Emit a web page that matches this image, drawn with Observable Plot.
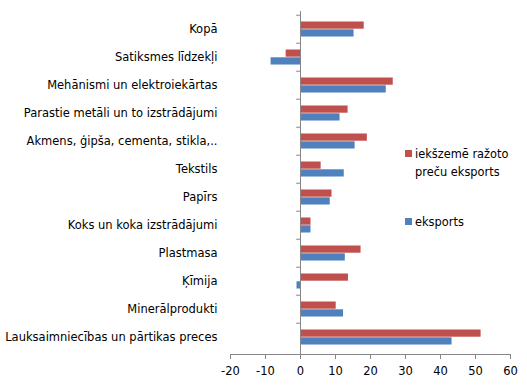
<!DOCTYPE html>
<html>
<head>
<meta charset="utf-8">
<script src="https://cdn.jsdelivr.net/npm/d3@7"></script>
<script src="https://cdn.jsdelivr.net/npm/@observablehq/plot@0.6"></script>
<style>
  html, body { margin: 0; padding: 0; background: #fff; }
  #wrap { position: relative; width: 527px; height: 386px; font-family: "DejaVu Sans", Verdana, sans-serif; }
  .leg { position: absolute; font-size: 11.4px; color: #000; line-height: 18px; }
  .sw { position: absolute; width: 7px; height: 7px; }
</style>
</head>
<body>
<div id="wrap"></div>
<script>
const categories = [
  "Kopā",
  "Satiksmes līdzekļi",
  "Mehānismi un elektroiekārtas",
  "Parastie metāli un to izstrādājumi",
  "Akmens, ģipša, cementa, stikla,..",
  "Tekstils",
  "Papīrs",
  "Koks un koka izstrādājumi",
  "Plastmasa",
  "Ķīmija",
  "Minerālprodukti",
  "Lauksaimniecības un pārtikas preces"
];
const domesticExport = [18.2, -4.1, 26.5, 13.6, 19.1, 5.9, 9.0, 3.0, 17.3, 13.7, 10.2, 51.6];
const totalExport = [15.3, -8.4, 24.5, 11.3, 15.6, 12.5, 8.5, 3.0, 12.8, -1.0, 12.3, 43.3];
const seriesNames = ["iekšzemē ražoto preču eksports", "eksports"];
const seriesColors = ["#C0504D", "#4F81BD"];
const xTicks = [-20, -10, 0, 10, 20, 30, 40, 50, 60];

const W = 527, H = 386;
const mTop = 11, mBottom = 32, mLeft = 230, mRight = 17;
const band = (H - mTop - mBottom) / categories.length;
const barH = band * 0.273;
const gapOuter = (band - 2 * barH) / 2;

const rows = [];
categories.forEach((c, i) => {
  rows.push({cat: c, s: 0, v: domesticExport[i]});
  rows.push({cat: c, s: 1, v: totalExport[i]});
});

const axisColor = "#868686";
const plot = Plot.plot({
  width: W, height: H,
  marginTop: mTop, marginBottom: mBottom, marginLeft: mLeft, marginRight: mRight,
  style: {fontFamily: "DejaVu Sans, Verdana, sans-serif", fontSize: "11.5px", color: "#000", background: "#fff"},
  x: {domain: [-20, 60], ticks: xTicks},
  y: {domain: categories, padding: 0},
  marks: [
    Plot.barX(rows.filter(d => d.s === 0), {
      x: "v", y: "cat", fill: seriesColors[0],
      insetTop: gapOuter, insetBottom: gapOuter + barH
    }),
    Plot.barX(rows.filter(d => d.s === 1), {
      x: "v", y: "cat", fill: seriesColors[1],
      insetTop: gapOuter + barH, insetBottom: gapOuter
    }),
    Plot.ruleX([0], {stroke: axisColor, strokeWidth: 1}),
    Plot.ruleY(categories, {y: d => d, x1: -1.1, x2: 0, dy: -band / 2, stroke: axisColor}),
    Plot.frame({anchor: "bottom", stroke: axisColor}),
    Plot.axisX({ticks: xTicks, tickSize: 5, tickPadding: 7, stroke: axisColor, color: "#000", fontSize: 11.5, label: null, tickFormat: d => String(d)}),
    Plot.axisY({tickSize: 0, tickPadding: 13, label: null, fontSize: 11.5})
  ]
});

const wrap = document.getElementById("wrap");
wrap.appendChild(plot);

// legend
const legendItems = [
  {name: seriesNames[0], color: seriesColors[0], top: 145, sq: 150, lines: ["iekšzemē ražoto", "preču eksports"]},
  {name: seriesNames[1], color: seriesColors[1], top: 213, sq: 218, lines: ["eksports"]}
];
legendItems.forEach(it => {
  const sw = document.createElement("div");
  sw.className = "sw";
  sw.style.left = "405px";
  sw.style.top = it.sq + "px";
  sw.style.background = it.color;
  wrap.appendChild(sw);
  const t = document.createElement("div");
  t.className = "leg";
  t.style.left = "415px";
  t.style.top = it.top + "px";
  t.innerHTML = it.lines.join("<br>");
  wrap.appendChild(t);
});
</script>
</body>
</html>
